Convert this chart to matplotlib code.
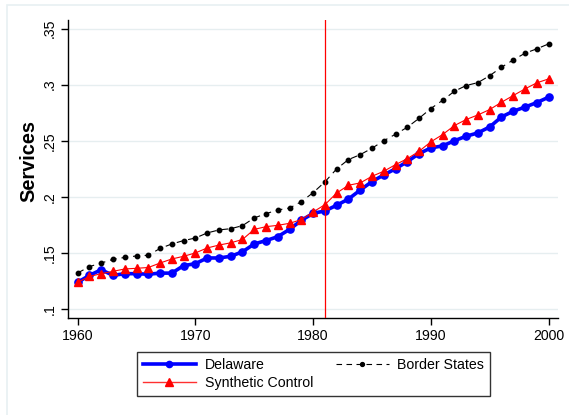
import matplotlib
matplotlib.use("Agg")
import matplotlib.pyplot as plt
from matplotlib.patches import Rectangle
from matplotlib.lines import Line2D

plt.rcParams['font.family'] = ['Liberation Sans', 'DejaVu Sans']

years = list(range(1960, 2001))
delaware = [0.1238, 0.1300, 0.1350, 0.1300, 0.1315, 0.1315, 0.1310, 0.1320, 0.1320, 0.1387,
            0.1404, 0.1455, 0.1455, 0.1470, 0.1510, 0.1580, 0.1610, 0.1645, 0.1710, 0.1790,
            0.1853, 0.1874, 0.1925, 0.1980, 0.2060, 0.2136, 0.2195, 0.2250, 0.2314, 0.2385,
            0.2436, 0.2454, 0.2500, 0.2540, 0.2570, 0.2623, 0.2712, 0.2763, 0.2800, 0.2840,
            0.2888]
synthetic = [0.1238, 0.1290, 0.1315, 0.1336, 0.1357, 0.1363, 0.1370, 0.1410, 0.1446, 0.1470,
             0.1500, 0.1544, 0.1570, 0.1590, 0.1620, 0.1710, 0.1734, 0.1746, 0.1764, 0.1797,
             0.1865, 0.1930, 0.2034, 0.2103, 0.2124, 0.2183, 0.2228, 0.2287, 0.2340, 0.2406,
             0.2490, 0.2555, 0.2635, 0.2689, 0.2730, 0.2778, 0.2843, 0.2903, 0.2962, 0.3016,
             0.3051]
border = [0.1321, 0.1378, 0.1410, 0.1443, 0.1460, 0.1473, 0.1479, 0.1540, 0.1580, 0.1610,
          0.1633, 0.1678, 0.1705, 0.1716, 0.1743, 0.1812, 0.1850, 0.1883, 0.1900, 0.1957,
          0.2037, 0.2133, 0.2249, 0.2332, 0.2376, 0.2433, 0.2500, 0.2558, 0.2620, 0.2700,
          0.2787, 0.2860, 0.2941, 0.2992, 0.3018, 0.3080, 0.3155, 0.3220, 0.3280, 0.3319,
          0.3363]
treat_year = 1981
yticks = [0.10, 0.15, 0.20, 0.25, 0.30, 0.35]
ytick_labels = ['.1', '.15', '.2', '.25', '.3', '.35']
xticks = [1960, 1970, 1980, 1990, 2000]

W, H = 569, 415
FS = 10.2
fig = plt.figure(figsize=(W/100, H/100), dpi=100)
fig.patch.set_facecolor('white')
fig.patches.append(Rectangle((6.5/W, -0.1), 1.2, (H-5)/H + 0.1, transform=fig.transFigure,
                             fill=False, edgecolor='#e8f0f2', linewidth=1.2))

ax = fig.add_axes([68/W, (H-318)/H, 490/W, 298/H])
ax.set_xlim(1959.18, 2000.8)
ax.set_ylim(0.092, 0.3576)

for spine in ['top', 'right']:
    ax.spines[spine].set_visible(False)
for spine in ['left', 'bottom']:
    ax.spines[spine].set_linewidth(1.0)

ax.set_yticks(yticks)
ax.set_yticklabels(ytick_labels, rotation=90, va='center')
ax.set_xticks(xticks)
ax.tick_params(axis='both', labelsize=FS, length=5, width=1, direction='out', pad=3)
ax.grid(axis='y', color='#e6eef0', linewidth=1.0)
ax.set_axisbelow(True)

ax.plot(years, delaware, color='#0000ff', linewidth=2.6, marker='o', markersize=5.2,
        label='Delaware', zorder=3)
ax.plot(years, synthetic, color='#ff0000', linewidth=0.8, marker='^', markersize=6.2,
        label='Synthetic Control', zorder=4)
ax.plot(years, border, color='black', linewidth=0.8, linestyle=(0, (6, 4.5)), marker='o',
        markersize=3.2, label='Border States', zorder=5)
ax.axvline(treat_year, color='#ff0000', linewidth=0.9, zorder=6)

fig.text(29/W, 1 - 161/H, 'Services', fontsize=14.4, fontweight='bold', rotation=90,
         ha='center', va='center')

handles = [
    Line2D([], [], color='#0000ff', linewidth=2.6, marker='o', markersize=4.5),
    Line2D([], [], color='#ff3030', linewidth=1.0, marker='^', markersize=5.5,
           markerfacecolor='#ff0000', markeredgecolor='#ff0000'),
    Line2D([], [], color='black', linewidth=0.8, linestyle=(0, (5, 4)), marker='o', markersize=2.8),
]
labels = ['Delaware', 'Synthetic Control', 'Border States']
leg = fig.legend(handles, labels, ncol=2, loc='center', bbox_to_anchor=(313.5/W, 1 - 374/H),
                 fontsize=FS, frameon=True, fancybox=False, handlelength=3.75,
                 handletextpad=0.6, columnspacing=1.6, borderpad=0.45, labelspacing=0.25,
                 borderaxespad=0)
leg.get_frame().set_edgecolor('black')
leg.get_frame().set_linewidth(1.0)

fig.savefig('out.png', dpi=100)
